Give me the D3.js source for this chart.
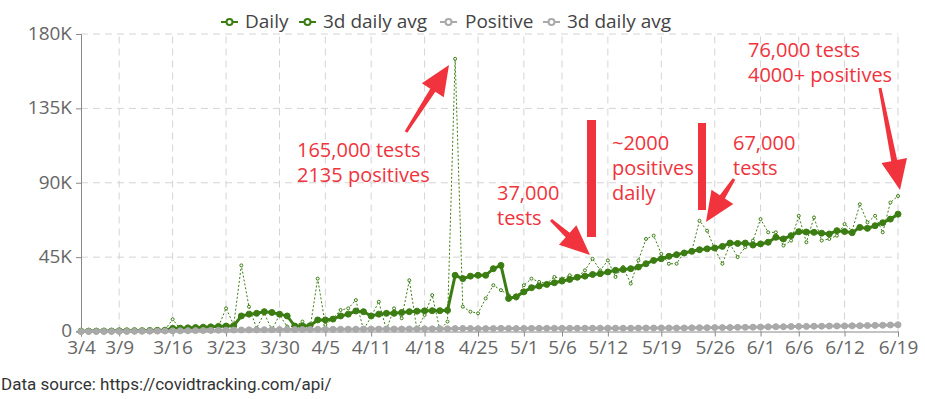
<!DOCTYPE html>
<html>
<head>
<meta charset="utf-8">
<script src="https://cdn.jsdelivr.net/npm/d3@7"></script>
<style>
  body { margin: 0; background: #fff; }
  svg { display: block; }
</style>
</head>
<body>
<div id="chart"></div>
<script>
// tests per day (3/4 .. 6/19)
let dailyTests = [
  300, 200, 300, 400, 300, 500, 400, 600, 500, 700, 800, 1000,
  7400, 1500, 2000, 2200, 2500, 2800, 3000, 14000, 4000,
  40000, 15000, 2000, 11000, 1000, 10000, 3000, 3000, 6000, 2000,
  32000, 4000, 8000, 13000, 14000, 19000, 1000, 9000, 18000, 1000,
  14000, 8000, 31000, 1000, 10000, 22000, 1000, 6000, 165000, 15000,
  12000, 11000, 20000, 28000, 25000, 22000, 20000, 28000, 32000, 30000,
  29000, 33000, 32000, 34000, 33000, 37000, 44000, 37000, 43000, 33000,
  39000, 29000, 43000, 56000, 58000, 47000, 41000, 41000, 48000, 49000,
  67000, 61000, 50000, 41000, 53000, 45000, 51000, 55000, 68000, 60000,
  60000, 52000, 55000, 70000, 54000, 69000, 55000, 56000, 58000, 65000,
  61000, 77000, 66000, 70000, 60000, 78000, 82000
];
let avgTests = [
  200, 250, 250, 300, 300, 400, 400, 500, 500, 600, 700, 800,
  1900, 2000, 2200, 2400, 2600, 2800, 3100, 3300, 3500,
  9400, 10500, 11000, 12000, 11500, 10500, 9400, 3300, 3300, 3500,
  7000, 7000, 7500, 9400, 10500, 12400, 12000, 9400, 10500, 11000,
  11000, 11500, 12000, 12300, 12500, 12600, 12600, 12800, 34000, 32000,
  33500, 34000, 34000, 38000, 40000, 20000, 21000, 24000, 26500, 27500,
  28500, 29500, 30500, 31500, 32800, 33500, 34500, 35000, 36000, 37000,
  37500, 38000, 39000, 41000, 43000, 44000, 45500, 46500, 47500, 48500,
  49500, 50000, 50500, 51500, 53500, 53300, 53500, 52300, 53000, 54000,
  57000, 56000, 58000, 60400, 60200, 60000, 59500, 59000, 61000, 60500,
  59800, 63000, 62400, 64000, 65800, 68000, 71000
];
let dailyPositive = [
  0, 0, 10, 20, 30, 50, 70, 100, 150, 200, 250, 300,
  350, 400, 500, 550, 600, 700, 750, 800, 900,
  1000, 900, 1100, 1000, 1200, 1100, 1300, 1200, 1100, 1300,
  1400, 1200, 1300, 1500, 1400, 1300, 1600, 1400, 1500, 1300,
  1600, 1500, 1700, 1400, 1600, 1800, 1500, 1700, 2135, 1800,
  1600, 1700, 1900, 1800, 2000, 1700, 1800, 1900, 2000, 1800,
  1900, 2000, 1800, 2100, 1900, 2000, 2200, 1900, 2000, 2100,
  1900, 2000, 2200, 2100, 2000, 2300, 2100, 2000, 2200, 2300,
  2400, 2200, 2300, 2500, 2400, 2600, 2500, 2700, 2900, 2800,
  3000, 2900, 3100, 3200, 3000, 3300, 3200, 3400, 3500, 3300,
  3600, 3500, 3700, 3800, 3900, 4100, 4300
];
let avgPositive = [
  0, 0, 10, 20, 30, 50, 70, 100, 140, 200, 250, 300,
  350, 420, 480, 550, 620, 680, 750, 820, 900,
  950, 1000, 1000, 1100, 1100, 1200, 1200, 1200, 1200, 1250,
  1300, 1300, 1300, 1350, 1400, 1400, 1450, 1450, 1450, 1450,
  1500, 1500, 1550, 1550, 1600, 1600, 1650, 1650, 1750, 1850,
  1800, 1700, 1750, 1800, 1900, 1850, 1800, 1850, 1900, 1900,
  1900, 1900, 1900, 1950, 1950, 2000, 2000, 2000, 2000, 2000,
  2000, 2000, 2050, 2100, 2100, 2150, 2150, 2100, 2150, 2200,
  2300, 2300, 2350, 2350, 2400, 2500, 2500, 2600, 2700, 2800,
  2900, 2900, 3000, 3100, 3100, 3200, 3200, 3300, 3350, 3400,
  3450, 3500, 3600, 3700, 3800, 3950, 4100
];
let tickDates = ["3/4","3/9","3/16","3/23","3/30","4/5","4/11","4/18","4/25","5/1",
                 "5/6","5/12","5/19","5/26","6/1","6/6","6/12","6/19"];
let yTicks = [0, 45000, 90000, 135000, 180000];
let legendNames = ["Daily", "3d daily avg", "Positive", "3d daily avg"];

let green = "#3b7d12", grey = "#a9a9a9", red = "#f0333c";
let W = 925, H = 399;
let font = "'Open Sans', sans-serif";

let parse = d3.timeParse("%m/%d/%Y");
let start = parse("3/4/2020"), end = parse("6/19/2020");
let days = d3.timeDay.range(start, d3.timeDay.offset(end, 1));

let svg = d3.select("#chart").append("svg")
    .attr("width", W).attr("height", H);

let x = d3.scaleTime().domain([start, end]).range([81, 898]);
let y = d3.scaleLinear().domain([0, 180000]).range([331.5, 34]);

// grid
svg.append("g").selectAll("line").data(yTicks.slice(1)).join("line")
    .attr("x1", 81).attr("x2", 898)
    .attr("y1", d => y(d)).attr("y2", d => y(d))
    .attr("stroke", "#d4d4d4").attr("stroke-dasharray", "7,5");
svg.append("g").selectAll("line").data(tickDates.slice(1)).join("line")
    .attr("x1", d => x(parse(d + "/2020"))).attr("x2", d => x(parse(d + "/2020")))
    .attr("y1", y(0)).attr("y2", y(180000))
    .attr("stroke", "#d4d4d4").attr("stroke-dasharray", "7,5");

// axes
let yAxis = svg.append("g").attr("transform", "translate(81,0)")
  .call(d3.axisLeft(y).tickValues(yTicks).tickSize(5).tickPadding(4)
        .tickFormat(d => d === 0 ? "0" : (d / 1000) + "K"));
let xAxis = svg.append("g").attr("transform", "translate(0," + y(0) + ")")
  .call(d3.axisBottom(x).tickValues(tickDates.map(d => parse(d + "/2020")))
        .tickSize(5).tickPadding(4).tickFormat(d3.timeFormat("%-m/%-d")));
[xAxis, yAxis].forEach(a => {
  a.select(".domain").attr("stroke", "#888");
  a.selectAll(".tick line").attr("stroke", "#888");
  a.selectAll("text").attr("fill", "#666").style("font-family", font).style("font-size", "19px");
});
yAxis.selectAll("text").attr("dy", "0.28em");

function drawSeries(vals, color, thick) {
  let pts = vals.map((v, i) => [x(days[i]), y(v)]);
  let line = d3.line();
  let g = svg.append("g");
  g.append("path").attr("d", line(pts)).attr("fill", "none")
    .attr("stroke", color)
    .attr("stroke-width", thick ? 3 : 1)
    .attr("stroke-dasharray", thick ? null : "2,2");
  g.selectAll("circle").data(pts).join("circle")
    .attr("cx", d => d[0]).attr("cy", d => d[1])
    .attr("r", thick ? 3 : 1.5)
    .attr("fill", thick ? color : "#fff")
    .attr("stroke", color).attr("stroke-width", 1);
}

drawSeries(dailyTests, green, false);
drawSeries(avgTests, green, true);
drawSeries(dailyPositive, grey, false);
drawSeries(avgPositive, grey, true);

// legend
let legendX = [[221, 245], [299, 323], [440, 465], [543, 567]];
let legendColors = [green, green, grey, grey];
legendNames.forEach((name, i) => {
  let g = svg.append("g");
  g.append("line").attr("x1", legendX[i][0]).attr("x2", legendX[i][0] + 17)
    .attr("y1", 22).attr("y2", 22).attr("stroke", legendColors[i]).attr("stroke-width", 2);
  g.append("circle").attr("cx", legendX[i][0] + 8.5).attr("cy", 22).attr("r", 3)
    .attr("fill", "#fff").attr("stroke", legendColors[i]).attr("stroke-width", 2);
  g.append("text").attr("x", legendX[i][1]).attr("y", 28)
    .attr("fill", "#444").style("font-family", font).style("font-size", "19px")
    .text(name);
});

// annotations
function note(x0, y0, lines) {
  let t = svg.append("text").attr("fill", red)
    .style("font-family", font).style("font-size", "20px");
  lines.forEach((s, i) => t.append("tspan").attr("x", x0).attr("y", y0 + i * 25).text(s));
}
function arrow(x1, y1, x2, y2) {
  let dx = x2 - x1, dy = y2 - y1, len = Math.hypot(dx, dy);
  let ux = dx / len, uy = dy / len, nx = -uy, ny = ux;
  let hl = 30, hw = 13, sw = 3;
  let bx = x2 - ux * hl, by = y2 - uy * hl;
  let p = [
    [x1 + nx * 1.5, y1 + ny * 1.5], [bx + nx * sw, by + ny * sw], [bx + nx * hw, by + ny * hw],
    [x2, y2],
    [bx - nx * hw, by - ny * hw], [bx - nx * sw, by - ny * sw], [x1 - nx * 1.5, y1 - ny * 1.5]
  ];
  svg.append("path").attr("d", "M" + p.join("L") + "Z").attr("fill", red);
}

note(297, 157, ["165,000 tests", "2135 positives"]);
arrow(406, 132, 449, 65);
note(497, 200, ["37,000", "tests"]);
arrow(551, 220, 590, 255);
svg.append("rect").attr("x", 587).attr("y", 120).attr("width", 9).attr("height", 117).attr("fill", red);
note(612, 150, ["~2000", "positives", "daily"]);
svg.append("rect").attr("x", 698).attr("y", 123).attr("width", 8).attr("height", 87).attr("fill", red);
note(733, 150, ["67,000", "tests"]);
arrow(734, 179, 706, 222);
note(748, 57, ["76,000 tests", "4000+ positives"]);
arrow(880, 88, 900, 190);

svg.append("text").attr("x", 1).attr("y", 390)
  .attr("fill", "#333").style("font-family", "Roboto, sans-serif").style("font-size", "17px")
  .text("Data source: https://covidtracking.com/api/");
</script>
</body>
</html>
